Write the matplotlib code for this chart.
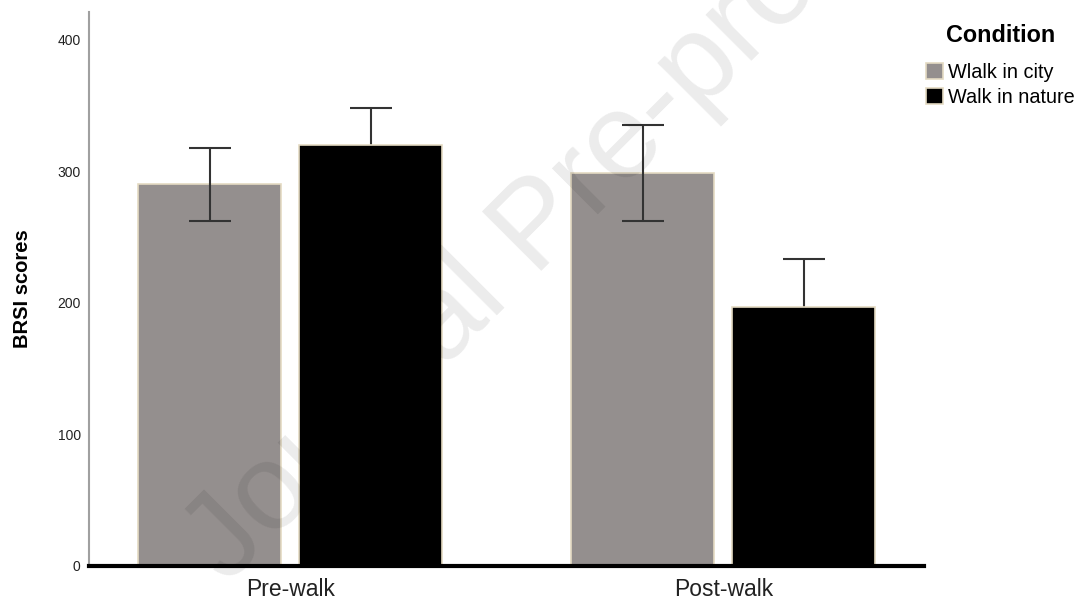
import matplotlib
matplotlib.use("Agg")
import matplotlib.pyplot as plt
from matplotlib.patches import Patch
import numpy as np

plt.rcParams['font.family'] = ['Liberation Sans', 'DejaVu Sans']

# Data
phases = ["Pre-walk", "Post-walk"]
conditions = ["Wlalk in city", "Walk in nature"]
city_means = [290, 299]
city_err = [28, 36.5]
nature_means = [320, 197]
nature_err = [28, 36]
y_ticks = [0, 100, 200, 300, 400]

colors = ["#948f8e", "#000000"]
edge = "#e4dac2"

fig = plt.figure(figsize=(10.78, 6.0), dpi=100)
ax = fig.add_axes([0.0826, 0.0567, 0.857 - 0.0826, 0.98 - 0.0567])

x = np.arange(len(phases))
w = 0.33
off = 0.186

ax.bar(x - off, city_means, width=w, color=colors[0], edgecolor=edge, linewidth=1.2, zorder=2)
ax.bar(x + off, nature_means, width=w, color=colors[1], edgecolor=edge, linewidth=1.2, zorder=2)
ax.errorbar(x - off, city_means, yerr=city_err, fmt="none", ecolor="#333333",
            elinewidth=1.5, capsize=15, capthick=1.5, zorder=3)
ax.errorbar(x + off, nature_means, yerr=nature_err, fmt="none", ecolor="#333333",
            elinewidth=1.5, capsize=15, capthick=1.5, zorder=1.5)

ax.set_xlim(-0.465, 1.463)
ax.set_ylim(0, 421)
ax.set_yticks(y_ticks)
ax.set_yticklabels([str(t) for t in y_ticks], fontsize=10, color="#222222")
ax.set_xticks(x)
ax.set_xticklabels(phases, fontsize=16.5, color="#222222")
ax.tick_params(axis="both", length=0)
ax.tick_params(axis="y", pad=6)
ax.tick_params(axis="x", pad=9)

for s in ["top", "right"]:
    ax.spines[s].set_visible(False)
ax.spines["left"].set_color("#a0a0a0")
ax.spines["left"].set_linewidth(1.5)
ax.spines["bottom"].set_color("black")
ax.spines["bottom"].set_linewidth(3)
ax.spines["bottom"].set_zorder(4)

ax.set_ylabel("BRSI scores", fontsize=14.5, fontweight="bold", labelpad=18)

# Legend with a separate title above it
fig.text(1001 / 1078, 1 - 35 / 600, "Condition", fontsize=16.8, fontweight="bold",
         ha="center", va="center")
handles = [Patch(facecolor=colors[0], edgecolor=edge, linewidth=1.2),
           Patch(facecolor=colors[1], edgecolor=edge, linewidth=1.2)]
leg = fig.legend(handles, conditions, loc="upper left", bbox_to_anchor=(0.859, 0.895),
                 frameon=False, fontsize=14.3,
                 handlelength=0.85, handleheight=0.85, handletextpad=0.25,
                 labelspacing=0.3, borderaxespad=0, borderpad=0)

# Watermark
fig.text(0.2106, 0.025, "Journal Pre-proof", fontsize=88, color="black", alpha=0.08,
         rotation=45, rotation_mode="anchor", ha="left", va="baseline", zorder=10)

fig.savefig("out.png", dpi=100)
